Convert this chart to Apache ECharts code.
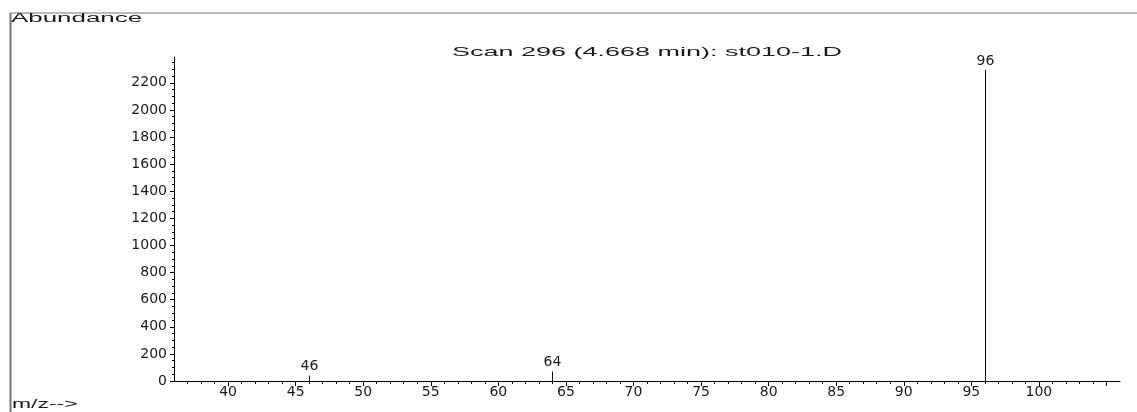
<!DOCTYPE html>
<html>
<head>
<meta charset="utf-8">
<script src="https://cdn.jsdelivr.net/npm/echarts@6/dist/echarts.min.js"></script>
<style>
html,body{margin:0;padding:0;background:#fff;}
#chart{width:1137px;height:412px;}
</style>
</head>
<body>
<div id="chart"></div>
<script>
// ---- data ----
const titleText = 'Scan 296 (4.668 min): st010-1.D';
const yAxisName = 'Abundance';
const xAxisName = 'm/z-->';
const mzValues = [46, 64, 96];
const abundanceValues = [40, 70, 2295];
const xMin = 36, xMax = 106;
const yMin = 0, yMax = 2390;
const xLabelValues = [40, 45, 50, 55, 60, 65, 70, 75, 80, 85, 90, 95, 100];
const xMajorTickValues = [40, 45, 50, 55, 60, 65, 70, 75, 80, 85, 90, 95, 100, 105];
const xMinorTickValues = [];
for (let v = 37; v <= 105; v++) xMinorTickValues.push(v);
const yLabelValues = [0, 200, 400, 600, 800, 1000, 1200, 1400, 1600, 1800, 2000, 2200];

const FONT = '"Liberation Sans", Arial, sans-serif';
const AXFONT = '"DejaVu Sans", sans-serif';
const TXT = '#1a1a1a';

// measure text to scale the wide instrument font
const cv = document.createElement('canvas').getContext('2d');
cv.font = '12px ' + FONT;
const titleW = cv.measureText(titleText).width;
const sx = 390 / titleW;

const chart = echarts.init(document.getElementById('chart'), null, {renderer: 'canvas'});
const data = mzValues.map((m, i) => [m, abundanceValues[i]]);

chart.setOption({
  animation: false,
  backgroundColor: '#fff',
  grid: {left: 174, right: 17, top: 57, bottom: 31, containLabel: false, outerBoundsMode: 'none'},
  xAxis: [{
    type: 'value', min: xMin, max: xMax,
    axisLine: {show: true, lineStyle: {color: '#000', width: 1}},
    axisTick: {show: true, length: 3, customValues: xMinorTickValues, lineStyle: {color: '#000'}},
    axisLabel: {show: false},
    splitLine: {show: false}
  }, {
    type: 'value', min: xMin, max: xMax, position: 'bottom',
    axisLine: {show: false},
    axisTick: {show: true, length: 5, customValues: xMajorTickValues, lineStyle: {color: '#000'}},
    axisLabel: {show: true, customValues: xLabelValues, color: TXT, fontFamily: AXFONT, fontSize: 14, margin: 4,
      formatter: v => String(v)},
    splitLine: {show: false}
  }],
  yAxis: {
    type: 'value', min: yMin, max: yMax, interval: 200,
    axisLine: {show: true, lineStyle: {color: '#000', width: 1}},
    axisTick: {show: true, length: 4, customValues: yLabelValues, lineStyle: {color: '#000'}},
    minorTick: {show: true, splitNumber: 4, length: 2, lineStyle: {color: '#000'}},
    axisLabel: {show: true, customValues: yLabelValues, color: TXT, fontFamily: AXFONT, fontSize: 14, margin: 7,
      formatter: v => String(v)},
    splitLine: {show: false}
  },
  graphic: [
    {type: 'line', shape: {x1: 10, y1: 13, x2: 1137, y2: 13}, style: {stroke: '#777', lineWidth: 1}, silent: true},
    {type: 'line', shape: {x1: 10.5, y1: 13, x2: 10.5, y2: 412}, style: {stroke: '#777', lineWidth: 2}, silent: true},
    {type: 'text', x: 452, y: 53, scaleX: sx, originX: 0, style: {text: titleText, font: '12px ' + FONT, fill: TXT, textAlign: 'left', textVerticalAlign: 'middle'}},
    {type: 'text', x: 11, y: 19, scaleX: sx * 0.96, originX: 0, style: {text: yAxisName, font: '12px ' + FONT, fill: TXT, textAlign: 'left', textVerticalAlign: 'middle'}},
    {type: 'text', x: 12, y: 405, scaleX: sx * 0.85, originX: 0, style: {text: xAxisName, font: '12px ' + FONT, fill: TXT, textAlign: 'left', textVerticalAlign: 'middle'}}
  ],
  series: [{
    type: 'custom',
    xAxisIndex: 0,
    data: data,
    renderItem: function (params, api) {
      const x = api.value(0), y = api.value(1);
      const p0 = api.coord([x, 0]);
      const p1 = api.coord([x, y]);
      const px = Math.round(p0[0]) + 0.5;
      return {
        type: 'group',
        children: [
          {type: 'line', shape: {x1: px, y1: p0[1], x2: px, y2: p1[1]}, style: {stroke: '#000', lineWidth: 1}},
          {type: 'text', x: px, y: p1[1] - 2, style: {text: String(x), font: '14px ' + AXFONT, fill: TXT, textAlign: 'center', textVerticalAlign: 'bottom'}}
        ]
      };
    }
  }]
});
</script>
</body>
</html>
